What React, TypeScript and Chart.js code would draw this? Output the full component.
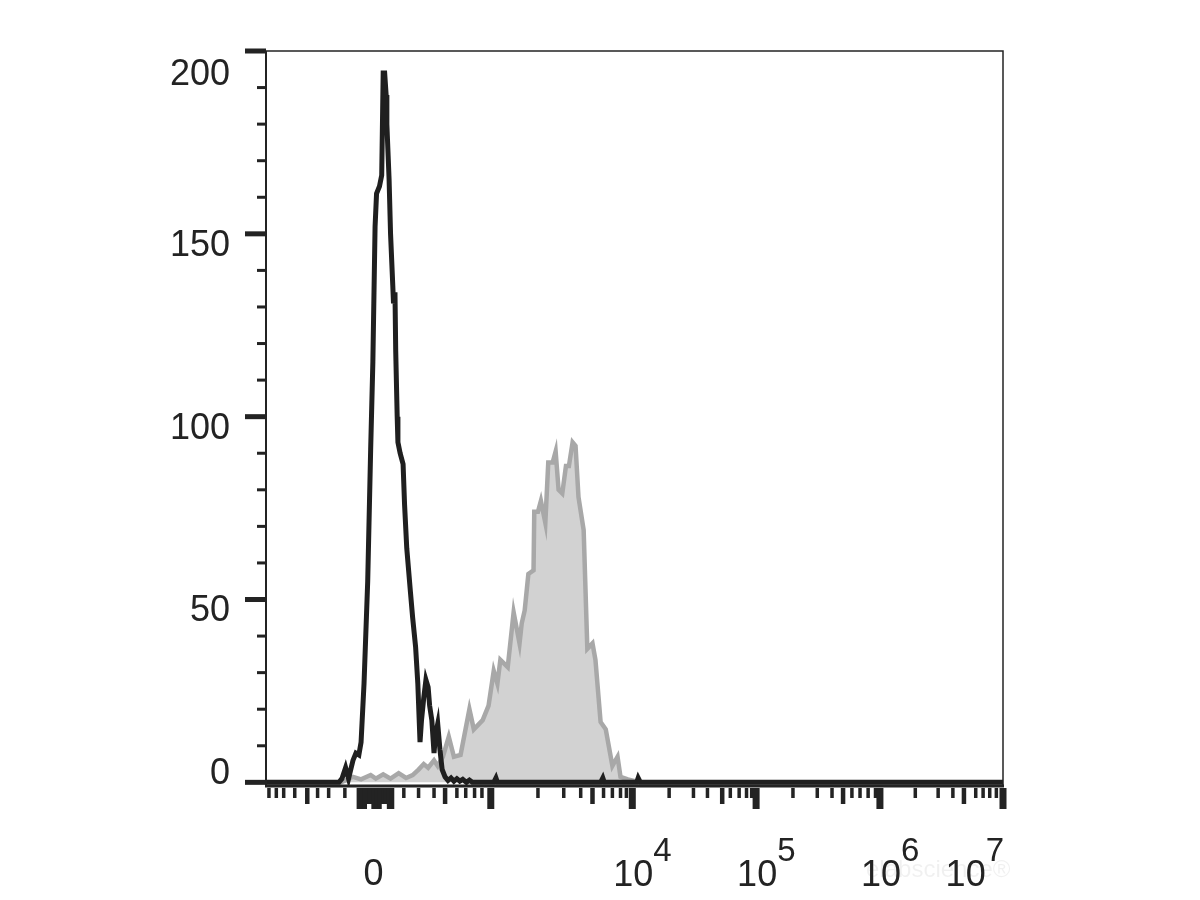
import React, { useEffect, useRef } from 'react';
import { Chart, registerables } from 'chart.js';

Chart.register(...registerables);

// Channel axis (0..1000) of a biexponential flow-cytometry display; counts on y.
const blackChannels = [0, 99, 103, 108, 112, 118, 122, 126, 129, 133, 138, 142, 145, 148, 150, 154, 157, 159, 161, 163, 164, 167, 169, 172, 173, 175, 176, 178, 179, 182, 186, 188, 191, 196, 199, 203, 206, 209, 211, 214, 217, 220, 222, 225, 228, 230, 233, 236, 239, 243, 247, 251, 255, 259, 263, 267, 272, 276, 280, 309, 312, 314, 454, 457, 459, 503, 505, 508, 1000];
const blackCounts = [0, 0, 1, 4, 1, 6, 8, 7.5, 11, 27, 55, 91, 115, 152, 161, 163, 166, 194, 194, 188, 180, 165, 150, 136, 131, 134, 118, 100, 93, 90, 87, 76, 64, 52, 45, 37, 27, 11, 17, 23, 28, 26, 21, 17, 8, 13, 16, 9, 3.5, 1.5, 0.5, 1.2, 0.3, 1, 0.3, 0.8, 0, 0.6, 0, 0, 1.2, 0, 0, 1.2, 0, 0, 1.2, 0, 0];

const grayChannels = [0, 102, 108, 118, 129, 142, 149, 159, 169, 180, 190, 199, 207, 214, 220, 228, 233, 240, 248, 255, 264, 276, 282, 294, 302, 309, 314, 318, 328, 336, 344, 347, 351, 356, 363, 364, 369, 373, 379, 383, 389, 393, 397, 402, 407, 411, 416, 420, 424, 431, 436, 443, 447, 454, 461, 470, 477, 481, 491, 508, 1000];
const grayCounts = [0, 0, 0.5, 1.5, 0.8, 2, 1, 2.2, 1, 2.5, 1.2, 2, 3.5, 5, 4, 6, 4.5, 7, 12.5, 7, 7.5, 20, 14.5, 17, 21, 30.5, 27, 33.5, 31.5, 46.5, 38, 43.5, 47, 57, 58, 74, 74, 77, 71, 87.5, 87.5, 90.5, 80, 79, 86.5, 86.5, 93, 92, 78, 69, 36.5, 38, 33.5, 16.5, 14.5, 4.5, 7, 1.5, 0.8, 0, 0];

const yMajorTicks = [0, 50, 100, 150, 200];
const yTickLabels = ['0', '50', '100', '150', '200'];
const yMinorTicks = [10, 20, 30, 40, 60, 70, 80, 90, 110, 120, 130, 140, 160, 170, 180, 190];

const xMajorTicks = [305, 497, 665, 833, 1000];
const xMediumTicks = [56, 243, 443, 619, 783, 947];
const xMinorTicks = [4, 14, 24, 39, 70, 85, 107, 187, 207, 228, 259, 271, 283, 293, 369, 404, 427, 458, 470, 481, 489, 547, 580, 599, 630, 642, 652, 659, 715, 748, 768, 795, 806, 817, 827, 881, 912, 932, 963, 973, 982, 991];
const xZeroTallTicks = [126, 130, 134, 146, 150, 154, 167, 171];
const xZeroMidTicks = [138, 142, 159, 163];
const xLabelPositions = [146, 497, 665, 833, 1000];
const xLabelBases = ['0', '10', '10', '10', '10'];
const xLabelExponents = ['', '4', '5', '6', '7'];

const INK = '#232323';
const FONT = "'Liberation Sans', Arial, sans-serif";

const axesPlugin = {
  id: 'flowAxes',
  afterDatasetsDraw(chart: any) {
    const { ctx, chartArea: a, scales } = chart;
    const xs = scales.x;
    const ys = scales.y;
    ctx.save();
    ctx.fillStyle = INK;
    ctx.strokeStyle = INK;

    // frame
    ctx.lineWidth = 1.5;
    ctx.beginPath();
    ctx.moveTo(a.left, a.top);
    ctx.lineTo(a.right, a.top);
    ctx.lineTo(a.right, a.bottom);
    ctx.stroke();
    ctx.lineWidth = 2;
    ctx.beginPath();
    ctx.moveTo(a.left, a.top);
    ctx.lineTo(a.left, a.bottom);
    ctx.stroke();
    ctx.lineWidth = 3;
    ctx.beginPath();
    ctx.moveTo(a.left - 1, a.bottom);
    ctx.lineTo(a.right + 1, a.bottom);
    ctx.stroke();

    // y ticks
    for (const v of yMinorTicks) {
      const y = ys.getPixelForValue(v);
      ctx.fillRect(a.left - 9, y - 1.5, 9, 3);
    }
    for (const v of yMajorTicks) {
      const y = ys.getPixelForValue(v);
      ctx.fillRect(a.left - 21, y - 2.5, 21, 5);
    }
    // y labels
    ctx.font = `36px ${FONT}`;
    ctx.textAlign = 'right';
    ctx.textBaseline = 'middle';
    yMajorTicks.forEach((v, i) => {
      const ty = ys.getPixelForValue(v);
      const y = Math.min(Math.max(ty + 12, a.top + 24), a.bottom - 12);
      ctx.fillText(yTickLabels[i], a.left - 36, y);
    });

    // x ticks
    const t0 = a.bottom + 2;
    for (const v of xMinorTicks) {
      const x = xs.getPixelForValue(v);
      ctx.fillRect(x - 1.75, t0, 3.5, 10);
    }
    for (const v of xZeroMidTicks) {
      const x = xs.getPixelForValue(v);
      ctx.fillRect(x - 2.25, t0, 4.5, 16);
    }
    for (const v of xMediumTicks) {
      const x = xs.getPixelForValue(v);
      ctx.fillRect(x - 2.25, t0, 4.5, 16);
    }
    for (const v of xZeroTallTicks) {
      const x = xs.getPixelForValue(v);
      ctx.fillRect(x - 2.25, t0, 4.5, 21);
    }
    for (const v of xMajorTicks) {
      const x = xs.getPixelForValue(v);
      ctx.fillRect(x - 3.5, t0, 7, 21);
    }

    // watermark
    ctx.fillStyle = 'rgba(0,0,0,0.06)';
    ctx.font = `24px ${FONT}`;
    ctx.textAlign = 'left';
    ctx.textBaseline = 'alphabetic';
    ctx.fillText('elabscience®', 866, 877);

    // x labels
    ctx.fillStyle = INK;
    xLabelPositions.forEach((v, i) => {
      const x = xs.getPixelForValue(v);
      const base = xLabelBases[i];
      const exp = xLabelExponents[i];
      ctx.textBaseline = 'alphabetic';
      if (!exp) {
        ctx.font = `36px ${FONT}`;
        ctx.textAlign = 'center';
        ctx.fillText(base, x, 885);
        return;
      }
      ctx.textAlign = 'left';
      ctx.font = `36px ${FONT}`;
      const wb = ctx.measureText(base).width;
      ctx.font = `33px ${FONT}`;
      const we = ctx.measureText(exp).width;
      let x0 = x - 19;
      if (x0 + wb + we > a.right + 1) x0 = a.right + 1 - wb - we;
      ctx.font = `36px ${FONT}`;
      ctx.fillText(base, x0, 886);
      ctx.font = `33px ${FONT}`;
      ctx.fillText(exp, x0 + wb, 861);
    });

    ctx.restore();
  },
};

export default function App() {
  const ref = useRef<HTMLCanvasElement>(null);

  useEffect(() => {
    const canvas = ref.current;
    if (!canvas) return;
    const chart = new Chart(canvas, {
      type: 'line',
      data: {
        datasets: [
          {
            label: 'Stained',
            data: grayChannels.map((c, i) => ({ x: c, y: grayCounts[i] })),
            borderColor: '#a8a8a8',
            backgroundColor: '#d2d2d2',
            borderWidth: 4.5,
            fill: 'origin',
            pointRadius: 0,
            tension: 0,
            order: 1,
          },
          {
            label: 'Control',
            data: blackChannels.map((c, i) => ({ x: c, y: blackCounts[i] })),
            borderColor: '#1f1f1f',
            borderWidth: 5,
            fill: false,
            pointRadius: 0,
            tension: 0,
            order: 0,
          },
        ],
      },
      options: {
        responsive: false,
        animation: false,
        devicePixelRatio: 1,
        layout: { padding: { left: 266, top: 51, right: 197, bottom: 114 } },
        scales: {
          x: { type: 'linear', min: 0, max: 1000, display: false },
          y: { type: 'linear', min: -1, max: 200, display: false },
        },
        plugins: {
          legend: { display: false },
          tooltip: { enabled: false },
        },
      },
      plugins: [axesPlugin],
    });
    return () => chart.destroy();
  }, []);

  return (
    <div style={{ position: 'absolute', left: 0, top: 0, width: 1200, height: 900, background: '#ffffff' }}>
      <canvas ref={ref} width={1200} height={900} style={{ display: 'block', width: 1200, height: 900 }} />
    </div>
  );
}
